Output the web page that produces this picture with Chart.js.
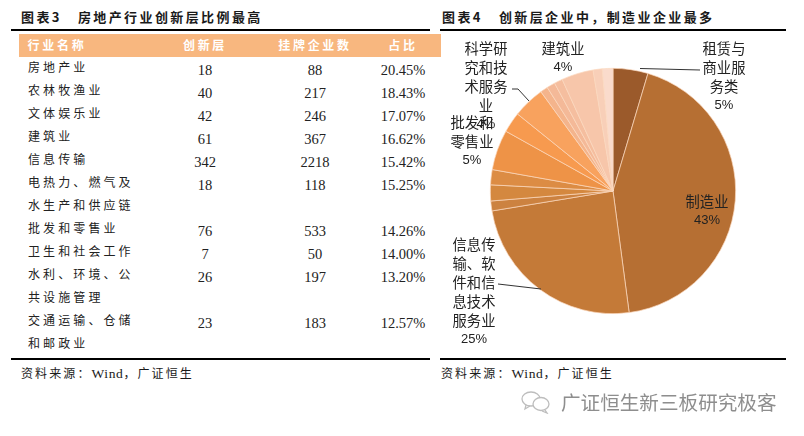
<!DOCTYPE html>
<html><head><meta charset="utf-8">
<script src="https://cdn.jsdelivr.net/npm/chart.js@4/dist/chart.umd.min.js"></script>
<style>
html,body{margin:0;padding:0;background:#fff;width:804px;height:436px;overflow:hidden}
#stage{position:relative;width:804px;height:436px;font-family:"Noto Sans CJK SC",sans-serif;color:#1a1a1a}
.t{position:absolute;white-space:nowrap;line-height:1}
.title{font-weight:700;font-size:13px;letter-spacing:2.4px;top:10px}
.rule{position:absolute;background:#000}
.src{font-size:12px;letter-spacing:2.1px;top:366px}
.src b{font:13.5px "Liberation Serif",serif;letter-spacing:.6px}
.cell{font-size:12px;letter-spacing:3.1px;color:#222}
.num{font:14.5px "Liberation Serif",serif;transform:translateX(-50%);color:#222}
.hd{font-size:12px;font-weight:700;color:#fff;letter-spacing:2.7px;top:39px;transform:translateX(-50%)}
#pie{position:absolute;left:470px;top:48px;width:286px;height:286px}
.lab{position:absolute;transform:translateX(-50%);text-align:center;font-size:14.3px;line-height:19px;white-space:nowrap;color:#222}
.lab i{font:13px/19px "Liberation Sans",sans-serif;display:block}
</style></head><body><div id="stage">
<div class="t title" style="left:21px">图表3&nbsp;&nbsp;&nbsp;房地产行业创新层比例最高</div>
<div class="t title" style="left:442px">图表4&nbsp;&nbsp;&nbsp;创新层企业中，制造业企业最多</div>
<div class="rule" style="left:11px;top:29px;width:419px;height:2px"></div>
<div class="rule" style="left:440px;top:29px;width:346px;height:2px"></div>
<div class="rule" style="left:11px;top:358px;width:419px;height:2px"></div>
<div class="rule" style="left:440px;top:358px;width:346px;height:2px"></div>
<div style="position:absolute;left:19px;top:34px;width:422px;height:23px;background:#F8B77F"></div>
<div id="tbl"></div>
<div class="t src" style="left:21px">资料来源：<b>Wind</b>，广证恒生</div>
<div class="t src" style="left:441px">资料来源：<b>Wind</b>，广证恒生</div>
<canvas id="pie" width="286" height="286"></canvas>
<svg id="lead" width="804" height="436" style="position:absolute;left:0;top:0;pointer-events:none"></svg>
<div id="labs"></div>
<svg width="32" height="24" viewBox="0 0 32 24" style="position:absolute;left:520px;top:390px" fill="none" stroke="#bdbdbd" stroke-width="1.3"><ellipse cx="11" cy="9" rx="9" ry="7"/><path d="M6 15l-1 4 5-3"/><ellipse cx="21" cy="14" rx="8" ry="6.5" fill="#fff"/><path d="M25 20l2 3-5-2"/></svg>
<div class="t" style="left:561px;top:392px;font-size:19.6px;color:#8e8e8e">广证恒生新三板研究极客</div>
</div>
<script>
const industries=["房地产业","农林牧渔业","文体娱乐业","建筑业","信息传输","电热力、燃气及\n水生产和供应链","批发和零售业","卫生和社会工作","水利、环境、公\n共设施管理","交通运输、仓储\n和邮政业"];
const innovationCounts=["18","40","42","61","342","18","76","7","26","23"];
const listedCounts=["88","217","246","367","2218","118","533","50","197","183"];
const shares=["20.45%","18.43%","17.07%","16.62%","15.42%","15.25%","14.26%","14.00%","13.20%","12.57%"];
const headers=["行业名称","创新层","挂牌企业数","占比"];
const pieCategories=["租赁与商业服务类","制造业","信息传输、软件和信息技术服务业","其他1","其他2","其他3","批发和零售业","其他4","科学研究和技术服务业","其他5","其他6","其他7","建筑业","其他8","其他9"];
const pieValues=[4.6,43.3,24.5,1.3,2.1,2.0,5.3,2.7,4.2,1.0,1.1,1.1,4.2,1.2,1.4];
const pieColors=["#9B5A2B","#B66F33","#C47A38","#CC8240","#D4883F","#DC8C44","#EE9347","#F79A4F","#F8A25E","#F4B48C","#F4B998","#F5BE9F","#F7C6AA","#F8CFB8","#FADBCC"];

const tbl=document.getElementById('tbl');
function add(cls,txt,l,t){const d=document.createElement('div');d.className='t '+cls;d.textContent=txt;d.style.left=l+'px';if(t!=null)d.style.top=t+'px';tbl.appendChild(d);}
const colX=[0,205,315,403];
add('hd',headers[0],57);add('hd',headers[1],colX[1]);add('hd',headers[2],colX[2]);add('hd',headers[3],colX[3]);
const lineH=23;let y=60.5,row=0;
industries.forEach((n,i)=>{
  const parts=n.split("\n");
  parts.forEach((p,j)=>add('cell',p,28,y+j*lineH));
  add('num',innovationCounts[i],colX[1],y+1);
  add('num',listedCounts[i],colX[2],y+1);
  add('num',shares[i],colX[3],y+1);
  y+=parts.length*lineH;
});

const labels=[
 {i:0,t:["租赁与","商业服","务类"],p:"5%",x:724,y:38,lead:[700,70,640,68.5]},
 {i:1,t:["制造业"],p:"43%",x:707,y:191},
 {i:2,t:["信息传","输、软","件和信","息技术","服务业"],p:"25%",x:474,y:234,lead:[498,284,541,289]},
 {i:6,t:["批发和","零售业"],p:"5%",x:472,y:112},
 {i:8,t:["科学研","究和技","术服务","业"],p:"4%",x:486,y:38,lead:[512,89,529,101]},
 {i:12,t:["建筑业"],p:"4%",x:563,y:38}
];
const labsEl=document.getElementById('labs');
labels.forEach(l=>{const d=document.createElement('div');d.className='lab';d.style.left=l.x+'px';d.style.top=l.y+'px';
 d.innerHTML=l.t.join('<br>')+'<i>'+l.p+'</i>';labsEl.appendChild(d);});
const svg=document.getElementById('lead');
svg.innerHTML=labels.filter(l=>l.lead).map(l=>{const a=l.lead;return `<path d="M${a[0]} ${a[1]}L${l.i==8?a[0]+6:a[0]-0} ${a[1]}L${a[2]} ${a[3]}" fill="none" stroke="#333" stroke-width="1"/>`}).join('');

new Chart(document.getElementById('pie'),{type:'pie',
 data:{labels:pieCategories,datasets:[{data:pieValues,backgroundColor:pieColors,borderColor:'#FBD9BE',borderWidth:0.7}]},
 options:{responsive:false,animation:false,layout:{padding:20},plugins:{legend:{display:false},tooltip:{enabled:false}}}});
</script></body></html>
